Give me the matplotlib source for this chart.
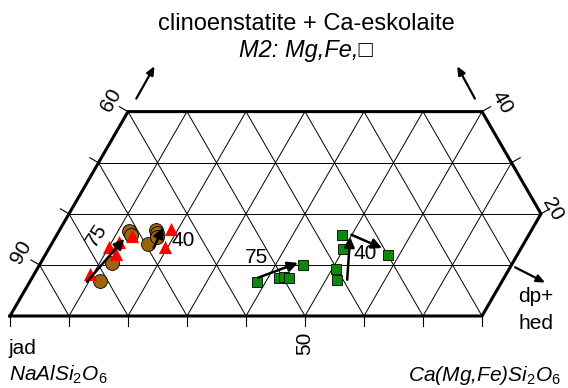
import numpy as np
import matplotlib
matplotlib.use("Agg")
import matplotlib.pyplot as plt

plt.rcParams['font.family'] = ['Liberation Sans', 'DejaVu Sans']
plt.rcParams['mathtext.fontset'] = 'custom'
plt.rcParams['mathtext.rm'] = 'Liberation Sans'
plt.rcParams['mathtext.it'] = 'Liberation Sans:italic'

# compositions in mol%: quad = Ca(Mg,Fe)Si2O6, top = clinoenstatite + Ca-eskolaite
jd_circ_quad = [11.8, 12.1, 11.8, 12.6, 16.3, 16.3, 16.7, 17.1]
jd_circ_top = [6.9, 10.4, 16.7, 15.9, 14.1, 16.9, 16.3, 15.5]

jd_tri_quad = [9.4, 10.0, 11.9, 11.2, 12.8, 18.8, 19.5]
jd_tri_top = [8.2, 13.5, 12.2, 14.5, 15.7, 17.1, 13.5]

di_sq_quad = [38.5, 41.9, 42.6, 43.6, 44.7, 48.3, 49.9, 50.6, 51.9, 58.1]
di_sq_top = [6.7, 7.5, 7.6, 7.5, 10.0, 15.9, 13.1, 9.2, 7.1, 12.0]

# trends (start quad, start top, end quad, end top)
trend_arrows = [
    (9.7, 6.7, 11.8, 15.1),
    (17.7, 13.3, 17.3, 17.3),
    (38.3, 7.5, 43.6, 10.4),
    (53.6, 7.1, 49.9, 15.5),
    (49.9, 15.9, 56.4, 13.3),
]
trend_labels = [("75", 6.8, 15.9, 57), ("40", 22.0, 14.7, 0),
                ("75", 36.0, 11.4, 0), ("40", 54.1, 12.2, 0)]

quad_max = 80
top_max = 40
S3 = np.sqrt(3) / 2


def tern(q, t):
    q = np.asarray(q, dtype=float)
    t = np.asarray(t, dtype=float)
    return (q + t / 2) / 100, t / 100 * S3


fig = plt.figure(figsize=(5.68, 3.88), dpi=100)
ax = fig.add_axes([0, 0, 1, 1])
ax.set_xlim(-10 / 590, 558 / 590)
ax.set_ylim(-72 / 590, 316 / 590)
ax.axis('off')

grid_kw = dict(color='black', lw=0.7, zorder=1)
# lines of constant top component
for t in range(10, top_max, 10):
    x, y = tern([0, min(quad_max, 100 - t)], [t, t])
    ax.plot(x, y, **grid_kw)
# lines of constant quad
for q in range(10, quad_max, 10):
    x, y = tern([q, q], [0, min(top_max, 100 - q)])
    ax.plot(x, y, **grid_kw)
# lines of constant jadeite
for j in range(10, 100, 10):
    t0 = max(0, 100 - j - quad_max)
    t1 = min(top_max, 100 - j)
    x, y = tern([100 - j - t0, 100 - j - t1], [t0, t1])
    ax.plot(x, y, **grid_kw)

# outline
bq = [0, quad_max, quad_max, 100 - top_max, 0, 0]
bt = [0, 0, 100 - quad_max, top_max, top_max, 0]
x, y = tern(bq, bt)
ax.plot(x, y, color='black', lw=2.2, solid_joinstyle='miter', zorder=2)

# ticks
tl = 10 / 590
for q in range(0, quad_max + 1, 10):
    x, y = tern(q, 0)
    ax.plot([x, x], [y, y - tl], color='black', lw=0.8)
for t in range(10, top_max + 1, 10):
    x, y = tern(0, t)
    ax.plot([x, x - tl * S3], [y, y + tl / 2], color='black', lw=0.8)
for t in range(20, top_max + 1, 10):
    x, y = tern(100 - t, t)
    ax.plot([x, x + tl * S3], [y, y + tl / 2], color='black', lw=0.8)

# data
x, y = tern(jd_circ_quad, jd_circ_top)
ax.scatter(x, y, s=100, c='#9a6410', edgecolors='black', linewidths=0.6, zorder=4)
x, y = tern(jd_tri_quad, jd_tri_top)
ax.scatter(x, y, s=90, marker='^', c='#ff0000', linewidths=0, zorder=5)
x, y = tern(di_sq_quad, di_sq_top)
ax.scatter(x, y, s=58, marker='s', c='#0a8a0a', edgecolors='black', linewidths=0.6, zorder=4)

for q0, t0, q1, t1 in trend_arrows:
    xa, ya = tern(q0, t0)
    xb, yb = tern(q1, t1)
    ax.annotate('', xy=(xb, yb), xytext=(xa, ya),
                arrowprops=dict(arrowstyle='-|>,head_length=0.6,head_width=0.3',
                                color='black', lw=1.8, shrinkA=0, shrinkB=0),
                zorder=6)

for txt, q, t, rot in trend_labels:
    x, y = tern(q, t)
    ax.text(x, y, txt, fontsize=15, rotation=rot, ha='center', va='center', zorder=7)

# axis labels
lab_kw = dict(fontsize=15, ha='center', va='center')
x, y = tern(0, 10)
ax.annotate('90', (x, y), xytext=(-13, 9), textcoords='offset points', rotation=60, **lab_kw)
x, y = tern(0, top_max)
ax.annotate('60', (x, y), xytext=(-12.5, 8), textcoords='offset points', rotation=60, **lab_kw)
x, y = tern(100 - top_max, top_max)
ax.annotate('40', (x, y), xytext=(14.5, 7), textcoords='offset points', rotation=-60, **lab_kw)
x, y = tern(100 - 20, 20)
ax.annotate('20', (x, y), xytext=(8.5, 3.5), textcoords='offset points', rotation=-60, **lab_kw)
x, y = tern(50, 0)
ax.annotate('50', (x, y), xytext=(0, -19.5), textcoords='offset points', rotation=90, **lab_kw)

# direction arrows
arr = dict(arrowstyle='-|>,head_length=0.5,head_width=0.22', color='black', lw=1.6,
           shrinkA=0, shrinkB=0)
x, y = tern(0, top_max)
ax.annotate('', xy=(x + 0.045, y + 0.077), xytext=(x + 0.014, y + 0.022), arrowprops=arr)
x, y = tern(100 - top_max, top_max)
ax.annotate('', xy=(x - 0.042, y + 0.077), xytext=(x - 0.012, y + 0.022), arrowprops=arr)
x, y = tern(quad_max, 10)
ax.annotate('', xy=(x + 0.057, y - 0.030), xytext=(x + 0.006, y - 0.004), arrowprops=arr)


def px(xp, yp):
    return xp / 568, 1 - yp / 388


fig.text(*px(306, 29.5), 'clinoenstatite + Ca-eskolaite', fontsize=17, ha='center', va='baseline')
fig.text(*px(306, 56.5), 'M2: Mg,Fe,\u25a1', fontsize=17, style='italic', ha='center', va='baseline')
fig.text(*px(9, 354), 'jad', fontsize=15, ha='left', va='baseline')
fig.text(*px(9, 381), r'NaAlSi$_\mathit{2}$O$_\mathit{6}$', fontsize=15, style='italic',
         ha='left', va='baseline')
fig.text(*px(561, 381), r'Ca(Mg,Fe)Si$_\mathit{2}$O$_\mathit{6}$', fontsize=15, style='italic',
         ha='right', va='baseline')
fig.text(*px(518, 302), 'dp+', fontsize=15, ha='left', va='baseline')
fig.text(*px(518, 329), 'hed', fontsize=15, ha='left', va='baseline')

fig.savefig('out.png', dpi=100)
